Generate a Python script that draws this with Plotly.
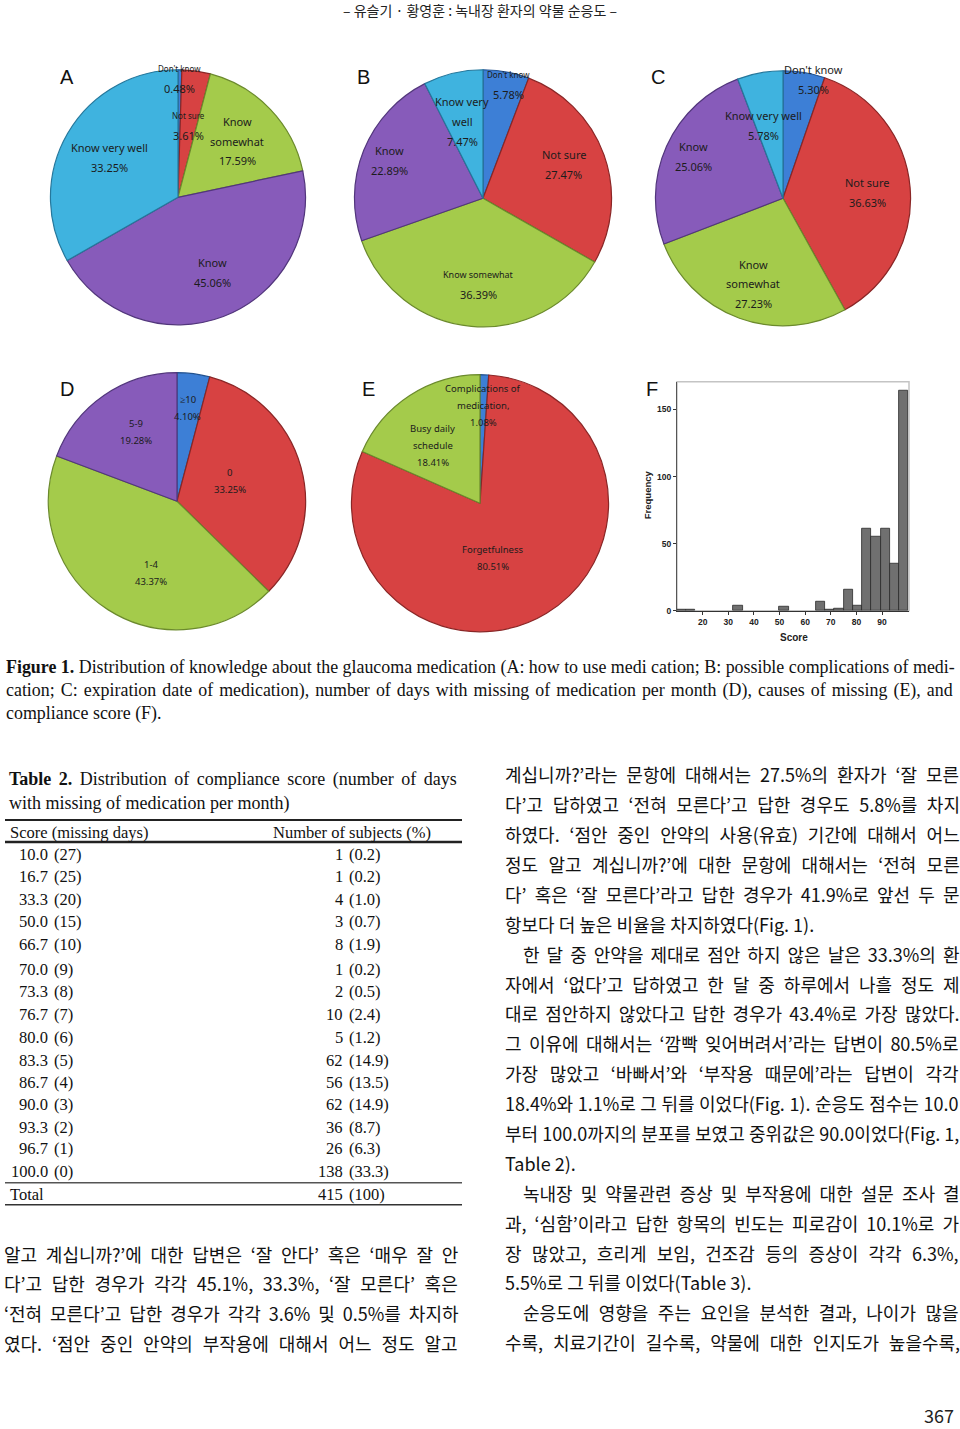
import math
import plotly.graph_objects as go

W, H = 960, 1429

# ---------------- data ----------------
knowledge_categories = ["Don't know", "Not sure", "Know somewhat", "Know", "Know very well"]
use_pct = [0.48, 3.61, 17.59, 45.06, 33.25]            # A: how to use medication
complication_pct = [5.78, 27.47, 36.39, 22.89, 7.47]   # B: possible complications
expiration_pct = [5.30, 36.63, 27.23, 25.06, 5.78]     # C: expiration date
missing_days_categories = ["≥10", "0", "1-4", "5-9"]
missing_days_pct = [4.10, 33.25, 43.37, 19.28]         # D
cause_categories = ["Complications of medication,", "Forgetfulness", "Busy daily schedule"]
cause_pct = [1.08, 80.51, 18.41]                       # E

hist_score = [11.8, 15.4, 33.8, 51.7, 66.0, 69.6, 73.2, 76.8, 80.4, 84.0, 87.6, 91.2, 94.8, 98.4]
hist_freq = [1, 1, 4, 3, 7, 1, 2, 16, 4, 61, 55, 61, 35, 164]
hist_xticks = [20, 30, 40, 50, 60, 70, 80, 90]
hist_yticks = [0, 50, 100, 150]

table_score = ["10.0", "16.7", "33.3", "50.0", "66.7", "70.0", "73.3", "76.7", "80.0",
               "83.3", "86.7", "90.0", "93.3", "96.7", "100.0"]
table_missing = [27, 25, 20, 15, 10, 9, 8, 7, 6, 5, 4, 3, 2, 1, 0]
table_subjects = [1, 1, 4, 3, 8, 1, 2, 10, 5, 62, 56, 62, 36, 26, 138]
table_percent = ["0.2", "0.2", "1.0", "0.7", "1.9", "0.2", "0.5", "2.4", "1.2",
                 "14.9", "13.5", "14.9", "8.7", "6.3", "33.3"]
table_total = 415

# ---------------- text ----------------
header_text = "– 유슬기 · 황영훈 : 녹내장 환자의 약물 순응도 –"
caption_lines = [
    "<b>Figure 1.</b> Distribution of knowledge about the glaucoma medication (A: how to use medi cation; B: possible complications of medi-",
    "cation; C: expiration date of medication), number of days with missing of medication per month (D), causes of missing (E), and",
    "compliance score (F).",
]
table_title_lines = [
    "<b>Table 2.</b> Distribution of compliance score (number of days",
    "with missing of medication per month)",
]
left_body = [
    "알고 계십니까?’에 대한 답변은 ‘잘 안다’ 혹은 ‘매우 잘 안",
    "다’고 답한 경우가 각각 45.1%, 33.3%, ‘잘 모른다’ 혹은",
    "‘전혀 모른다’고 답한 경우가 각각 3.6% 및 0.5%를 차지하",
    "였다. ‘점안 중인 안약의 부작용에 대해서 어느 정도 알고",
]
right_body = [
    "계십니까?’라는 문항에 대해서는 27.5%의 환자가 ‘잘 모른",
    "다’고 답하였고 ‘전혀 모른다’고 답한 경우도 5.8%를 차지",
    "하였다. ‘점안 중인 안약의 사용(유효) 기간에 대해서 어느",
    "정도 알고 계십니까?’에 대한 문항에 대해서는 ‘전혀 모른",
    "다’ 혹은 ‘잘 모른다’라고 답한 경우가 41.9%로 앞선 두 문",
    "항보다 더 높은 비율을 차지하였다(Fig. 1).",
    "한 달 중 안약을 제대로 점안 하지 않은 날은 33.3%의 환",
    "자에서 ‘없다’고 답하였고 한 달 중 하루에서 나흘 정도 제",
    "대로 점안하지 않았다고 답한 경우가 43.4%로 가장 많았다.",
    "그 이유에 대해서는 ‘깜빡 잊어버려서’라는 답변이 80.5%로",
    "가장 많았고 ‘바빠서’와 ‘부작용 때문에’라는 답변이 각각",
    "18.4%와 1.1%로 그 뒤를 이었다(Fig. 1). 순응도 점수는 10.0",
    "부터 100.0까지의 분포를 보였고 중위값은 90.0이었다(Fig. 1,",
    "Table 2).",
    "녹내장 및 약물관련 증상 및 부작용에 대한 설문 조사 결",
    "과, ‘심함’이라고 답한 항목의 빈도는 피로감이 10.1%로 가",
    "장 많았고, 흐리게 보임, 건조감 등의 증상이 각각 6.3%,",
    "5.5%로 그 뒤를 이었다(Table 3).",
    "순응도에 영향을 주는 요인을 분석한 결과, 나이가 많을",
    "수록, 치료기간이 길수록, 약물에 대한 인지도가 높을수록,",
]

# ---------------- style ----------------
COL = {"blue": "#3D7FD6", "red": "#D74242", "green": "#A4CB4B", "purple": "#875BBA", "cyan": "#3FB3DF"}
EDGE = {"blue": "#22528F", "red": "#8A2626", "green": "#6B8A2C", "purple": "#52367C", "cyan": "#26789C"}
knowledge_colors = ["blue", "red", "green", "purple", "cyan"]

SERIF = "Liberation Serif"
KR = "Noto Sans CJK KR"
LBL = "Noto Sans"

# body-text typesetting (justification): indent flags and natural widths (px at 18px font)
right_indent = [0, 0, 0, 0, 0, 0, 1, 0, 0, 0, 0, 0, 0, 0, 1, 0, 0, 0, 1, 0]
right_last = [0, 0, 0, 0, 0, 1, 0, 0, 0, 0, 0, 0, 0, 1, 0, 0, 0, 1, 0, 0]
right_natural = [426, 416, 415, 411, 418, 310, 407, 411, 433, 435, 410, 451, 454, 72, 401, 427, 405, 247, 399, 420]
left_natural = [413, 410, 424, 408]


def px(x):
    return x / W


def py(y):
    return 1 - y / H


annotations = []
shapes = []


def ann(x, y, text, size, family=SERIF, xanchor="left", color="#111", bold=False, angle=0):
    annotations.append(dict(
        x=px(x), y=py(y), xref="paper", yref="paper", text=text, showarrow=False,
        xanchor=xanchor, yanchor="middle", textangle=angle,
        font=dict(size=size, family=family, color=color, weight="bold" if bold else "normal"),
    ))


def justify(text, extra):
    n = text.count(" ")
    if n == 0 or extra <= 0.2:
        return text
    return f'<span style="word-spacing:{extra / n:.2f}px">{text}</span>'


fig = go.Figure()

pies = [
    dict(letter="A", values=use_pct, cats=knowledge_categories, cols=knowledge_colors,
         c=(178, 198), r=128, spacing=20,
         style=[(["Don't know", "{p}"], 0.93, 0, 8, 11),
                (["Not sure", "{p}"], 0.57, 0, 8, 11),
                (["Know", "somewhat", "{p}"], 0.64, 0, 11, 11),
                (["Know", "{p}"], 0.65, -4, 11, 11),
                (["Know very well", "{p}"], 0.62, 0, 11, 11)],
         lpos=(67, 77)),
    dict(letter="B", values=complication_pct, cats=knowledge_categories, cols=knowledge_colors,
         c=(483, 199), r=129, spacing=20,
         style=[(["Don't know", "{p}"], 0.91, 2, 8, 11),
                (["Not sure", "{p}"], 0.68, -3, 11, 11),
                (["Know somewhat", "{p}"], 0.67, -2, 9, 11),
                (["Know", "{p}"], 0.78, 0, 11, 11),
                (["Know very", "well", "{p}"], 0.62, -1.5, 11, 11)],
         lpos=(363, 77)),
    dict(letter="C", values=expiration_pct, cats=knowledge_categories, cols=knowledge_colors,
         c=(783, 199), r=128, spacing=20,
         style=[(["Don't know", "{p}"], 0.96, 5, 11, 11),
                (["Not sure", "{p}"], 0.66, 1, 11, 11),
                (["Know", "somewhat", "{p}"], 0.71, -1, 11, 11),
                (["Know", "{p}"], 0.77, 1, 11, 11),
                (["Know very well", "{p}"], 0.59, -4.6, 11, 11)],
         lpos=(658, 77)),
    dict(letter="D", values=missing_days_pct, cats=missing_days_categories,
         cols=["blue", "red", "green", "purple"],
         c=(177, 503), r=129, spacing=17,
         style=[(["≥10", "{p}"], 0.73, -0.7, 9.5, 9.5),
                (["0", "{p}"], 0.44, -5.6, 9.5, 9.5),
                (["1-4", "{p}"], 0.59, -12.6, 9.5, 9.5),
                (["5-9", "{p}"], 0.63, 4, 9.5, 9.5)],
         lpos=(67, 390)),
    dict(letter="E", values=cause_pct, cats=cause_categories, cols=["blue", "red", "green"],
         c=(480, 505), r=129, spacing=17,
         style=[(["Complications of", "medication,", "{p}"], 0.76, 0, 9.5, 9.5),
                (["Forgetfulness", "{p}"], 0.44, 18, 9.5, 9.5),
                (["Busy daily", "schedule", "{p}"], 0.58, -6, 9.5, 9.5)],
         lpos=(368, 390)),
]

for p in pies:
    cx, cy = p["c"]
    r = p["r"]
    fig.add_trace(go.Pie(
        values=p["values"], labels=p["cats"], sort=False, direction="clockwise", rotation=0,
        textinfo="none", hoverinfo="label+percent", showlegend=False,
        marker=dict(colors=[COL[k] for k in p["cols"]],
                    line=dict(color=[EDGE[k] for k in p["cols"]], width=1.2)),
        domain=dict(x=[px(cx - r), px(cx + r)], y=[py(cy + r), py(cy - r)]),
    ))
    total = sum(p["values"])
    cum = 0.0
    for v, st in zip(p["values"], p["style"]):
        lines, rf, dth, ns, ps = st
        mid = (cum + v / 2) / total * 360 + dth
        cum += v
        lx = cx + rf * r * math.sin(math.radians(mid))
        ly = cy - rf * r * math.cos(math.radians(mid))
        n = len(lines)
        for i, t in enumerate(lines):
            yy = ly - (n - 1) * p["spacing"] / 2 + i * p["spacing"]
            is_pct = "{p}" in t
            ann(lx, yy, t.format(p=f"{v:.2f}%"), ps if is_pct else ns, family=LBL,
                xanchor="center", color="#1c1c1c")
    ann(p["lpos"][0], p["lpos"][1], p["letter"], 20, family="Liberation Sans", xanchor="center", color="#111")

# ---------------- histogram F ----------------
x0, x1, y0, y1 = 677, 909, 383, 613
fig.add_trace(go.Bar(
    x=hist_score, y=hist_freq, width=3.6, showlegend=False,
    marker=dict(color="#707070", line=dict(color="#2a2a2a", width=0.8)),
    xaxis="x", yaxis="y",
))
shapes.append(dict(type="rect", xref="paper", yref="paper", x0=px(x0), x1=px(x1), y0=py(y1), y1=py(y0),
                   line=dict(color="#c4c4c4", width=1.5), fillcolor="rgba(0,0,0,0)", layer="below"))
ann(652, 390, "F", 20, family="Liberation Sans", xanchor="center", color="#111")
ann(647, 497, "Frequency", 9.5, family="Liberation Sans", xanchor="center", color="#222", bold=True, angle=-90)
ann(794, 640, "Score", 10, family="Liberation Sans", xanchor="center", color="#222", bold=True)

# ---------------- header / caption ----------------
ann(480, 10, header_text, 14, family=KR, xanchor="center", color="#222")
ann(4, 670, caption_lines[0], 17.9, family=SERIF, color="#111")
ann(4, 693, justify(caption_lines[1], 32), 17.9, family=SERIF, color="#111")
ann(4, 716, caption_lines[2], 17.9, family=SERIF, color="#111")

# ---------------- table 2 ----------------
ann(7, 782, justify(table_title_lines[0], 24), 18, family=SERIF)
ann(7, 806, table_title_lines[1], 18, family=SERIF)
for yy, wdt, col in [(823, 2, "#222"), (845, 2.5, "#222"), (1187, 1.5, "#555"), (1209, 1.5, "#333")]:
    shapes.append(dict(type="line", xref="paper", yref="paper", x0=px(5), x1=px(462), y0=py(yy), y1=py(yy),
                       line=dict(color=col, width=wdt)))
ann(8, 835, "Score (missing days)", 16.5, family=SERIF)
ann(271, 835, "Number of subjects (%)", 16.5, family=SERIF)
row_y = [858, 880, 903, 925, 948, 973, 995, 1018, 1041, 1064, 1086, 1108, 1131, 1153, 1176]
for yy, s, m, n, pc in zip(row_y, table_score, table_missing, table_subjects, table_percent):
    ann(50, yy, s, 16.5, family=SERIF, xanchor="right")
    ann(52, yy, f"({m})", 16.5, family=SERIF)
    ann(345, yy, str(n), 16.5, family=SERIF, xanchor="right")
    ann(347, yy, f"({pc})", 16.5, family=SERIF)
ann(8, 1199, "Total", 16.5, family=SERIF)
ann(345, 1199, str(table_total), 16.5, family=SERIF, xanchor="right")
ann(347, 1199, f"({100 * table_total // sum(table_subjects)})", 16.5, family=SERIF)

# ---------------- body text ----------------
for i, (t, nat) in enumerate(zip(left_body, left_natural)):
    ann(2, 1258 + i * 30, justify(t, 455 - nat), 18, family=KR, color="#111")
for i, t in enumerate(right_body):
    x_start = 521 if right_indent[i] else 503
    target = 958 - x_start
    txt = t if right_last[i] else justify(t, target - right_natural[i])
    ann(x_start, 777 + i * 30, txt, 18, family=KR, color="#111")
ann(956, 1420, "367", 18, family=KR, xanchor="right", color="#222")

fig.update_layout(
    width=W, height=H, margin=dict(l=0, r=0, t=0, b=0),
    paper_bgcolor="white", plot_bgcolor="white",
    annotations=annotations, shapes=shapes, showlegend=False,
    xaxis=dict(domain=[px(x0), px(x1)], range=[10, 100.5], tickvals=hist_xticks,
               ticks="outside", ticklen=3, tickcolor="#333", showline=True, linecolor="#333",
               linewidth=1, showgrid=False, zeroline=False, fixedrange=True,
               tickfont=dict(size=8.5, family="Liberation Sans", color="#222", weight="bold")),
    yaxis=dict(domain=[py(y1), py(y0)], range=[0, 170.7], tickvals=hist_yticks,
               ticks="outside", ticklen=3, tickcolor="#333", showline=True, linecolor="#555",
               linewidth=1, showgrid=False, zeroline=False, fixedrange=True,
               tickfont=dict(size=8.5, family="Liberation Sans", color="#222", weight="bold")),
    bargap=0,
)

fig.write_html("out.html")
